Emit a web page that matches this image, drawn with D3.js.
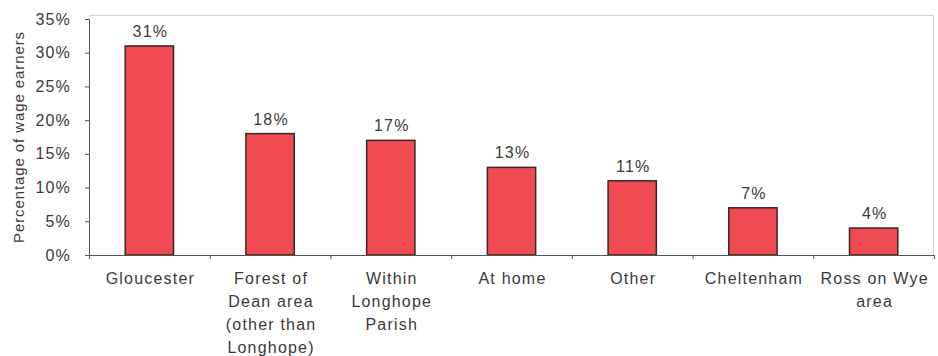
<!DOCTYPE html>
<html>
<head>
<meta charset="utf-8">
<script src="https://cdn.jsdelivr.net/npm/d3@7"></script>
<style>
  html, body { margin: 0; padding: 0; background: #fff; }
  svg text { font-family: "Liberation Sans", Arial, sans-serif; fill: #3a3a3a; }
</style>
</head>
<body>
<svg id="chart" width="938" height="356"></svg>
<script>
// Where wage earners work
const categories = [
  ["Gloucester"],
  ["Forest of", "Dean area", "(other than", "Longhope)"],
  ["Within", "Longhope", "Parish"],
  ["At home"],
  ["Other"],
  ["Cheltenham"],
  ["Ross on Wye", "area"]
];
const values = [31, 18, 17, 13, 11, 7, 4];
const yTicks = [0, 5, 10, 15, 20, 25, 30, 35];
const yTitle = "Percentage of wage earners";

const svg = d3.select("#chart");
const margin = { left: 89, right: 4, top: 19, bottom: 101 };
const W = 938, H = 356;

const x = d3.scaleBand()
  .domain(d3.range(values.length))
  .range([margin.left, W - margin.right])
  .paddingInner(0.6)
  .paddingOuter(0.3);

const y = d3.scaleLinear()
  .domain([0, 35])
  .range([H - margin.bottom, margin.top]);

// plot frame (light top and right edges)
svg.append("path")
  .attr("d", `M${margin.left},${y(35) - 3.5}H${W - margin.right - 0.5}V${y(0)}`)
  .attr("fill", "none")
  .attr("stroke", "#cfcfcf")
  .attr("stroke-width", 1);

// bars
svg.append("g").selectAll("rect")
  .data(values)
  .join("rect")
  .attr("x", (d, i) => x(i))
  .attr("y", d => y(d))
  .attr("width", x.bandwidth())
  .attr("height", d => y(0) - y(d))
  .attr("fill", "#f04a52")
  .attr("stroke", "#3a2626")
  .attr("stroke-width", 1.5);

// value labels
svg.append("g").selectAll("text")
  .data(values)
  .join("text")
  .attr("x", (d, i) => x(i) + x.bandwidth() / 2 + 1)
  .attr("y", d => y(d) - 9)
  .attr("text-anchor", "middle")
  .style("font-size", "16px")
  .style("letter-spacing", "1.2px")
  .text(d => d + "%");

// y axis
const yAxis = svg.append("g")
  .attr("transform", `translate(${margin.left},0)`)
  .call(d3.axisLeft(y).tickValues(yTicks).tickSize(4).tickPadding(14).tickFormat(d => d + "%"));
yAxis.select(".domain").attr("stroke", "#555");
yAxis.selectAll(".tick line").attr("stroke", "#555");
yAxis.selectAll(".tick text")
  .attr("fill", "#3a3a3a")
  .style("font-size", "16px")
  .style("letter-spacing", "1.2px")
  .style("font-family", "Liberation Sans, Arial, sans-serif");

// x axis baseline with ticks between categories
const xb = d3.scaleLinear().domain([0, values.length]).range([margin.left, W - margin.right]);
const xAxis = svg.append("g")
  .attr("transform", `translate(0,${y(0)})`)
  .call(d3.axisBottom(xb).tickValues(d3.range(values.length + 1)).tickSize(4).tickFormat(""));
xAxis.select(".domain").attr("stroke", "#555");
xAxis.selectAll(".tick line").attr("stroke", "#555");

// category labels
const cat = svg.append("g").selectAll("text")
  .data(categories)
  .join("text")
  .attr("x", (d, i) => x(i) + x.bandwidth() / 2 + 1)
  .attr("y", y(0) + 29)
  .attr("text-anchor", "middle")
  .style("font-size", "16px")
  .style("letter-spacing", "1.2px");
cat.selectAll("tspan")
  .data(d => d)
  .join("tspan")
  .attr("x", function () { return d3.select(this.parentNode).attr("x"); })
  .attr("dy", (d, i) => i === 0 ? 0 : 23)
  .text(d => d);

// y axis title
svg.append("text")
  .attr("transform", `translate(24,${(y(0) + y(35)) / 2}) rotate(-90)`)
  .attr("text-anchor", "middle")
  .style("font-size", "15px")
  .style("letter-spacing", "0.9px")
  .text(yTitle);
</script>
</body>
</html>
